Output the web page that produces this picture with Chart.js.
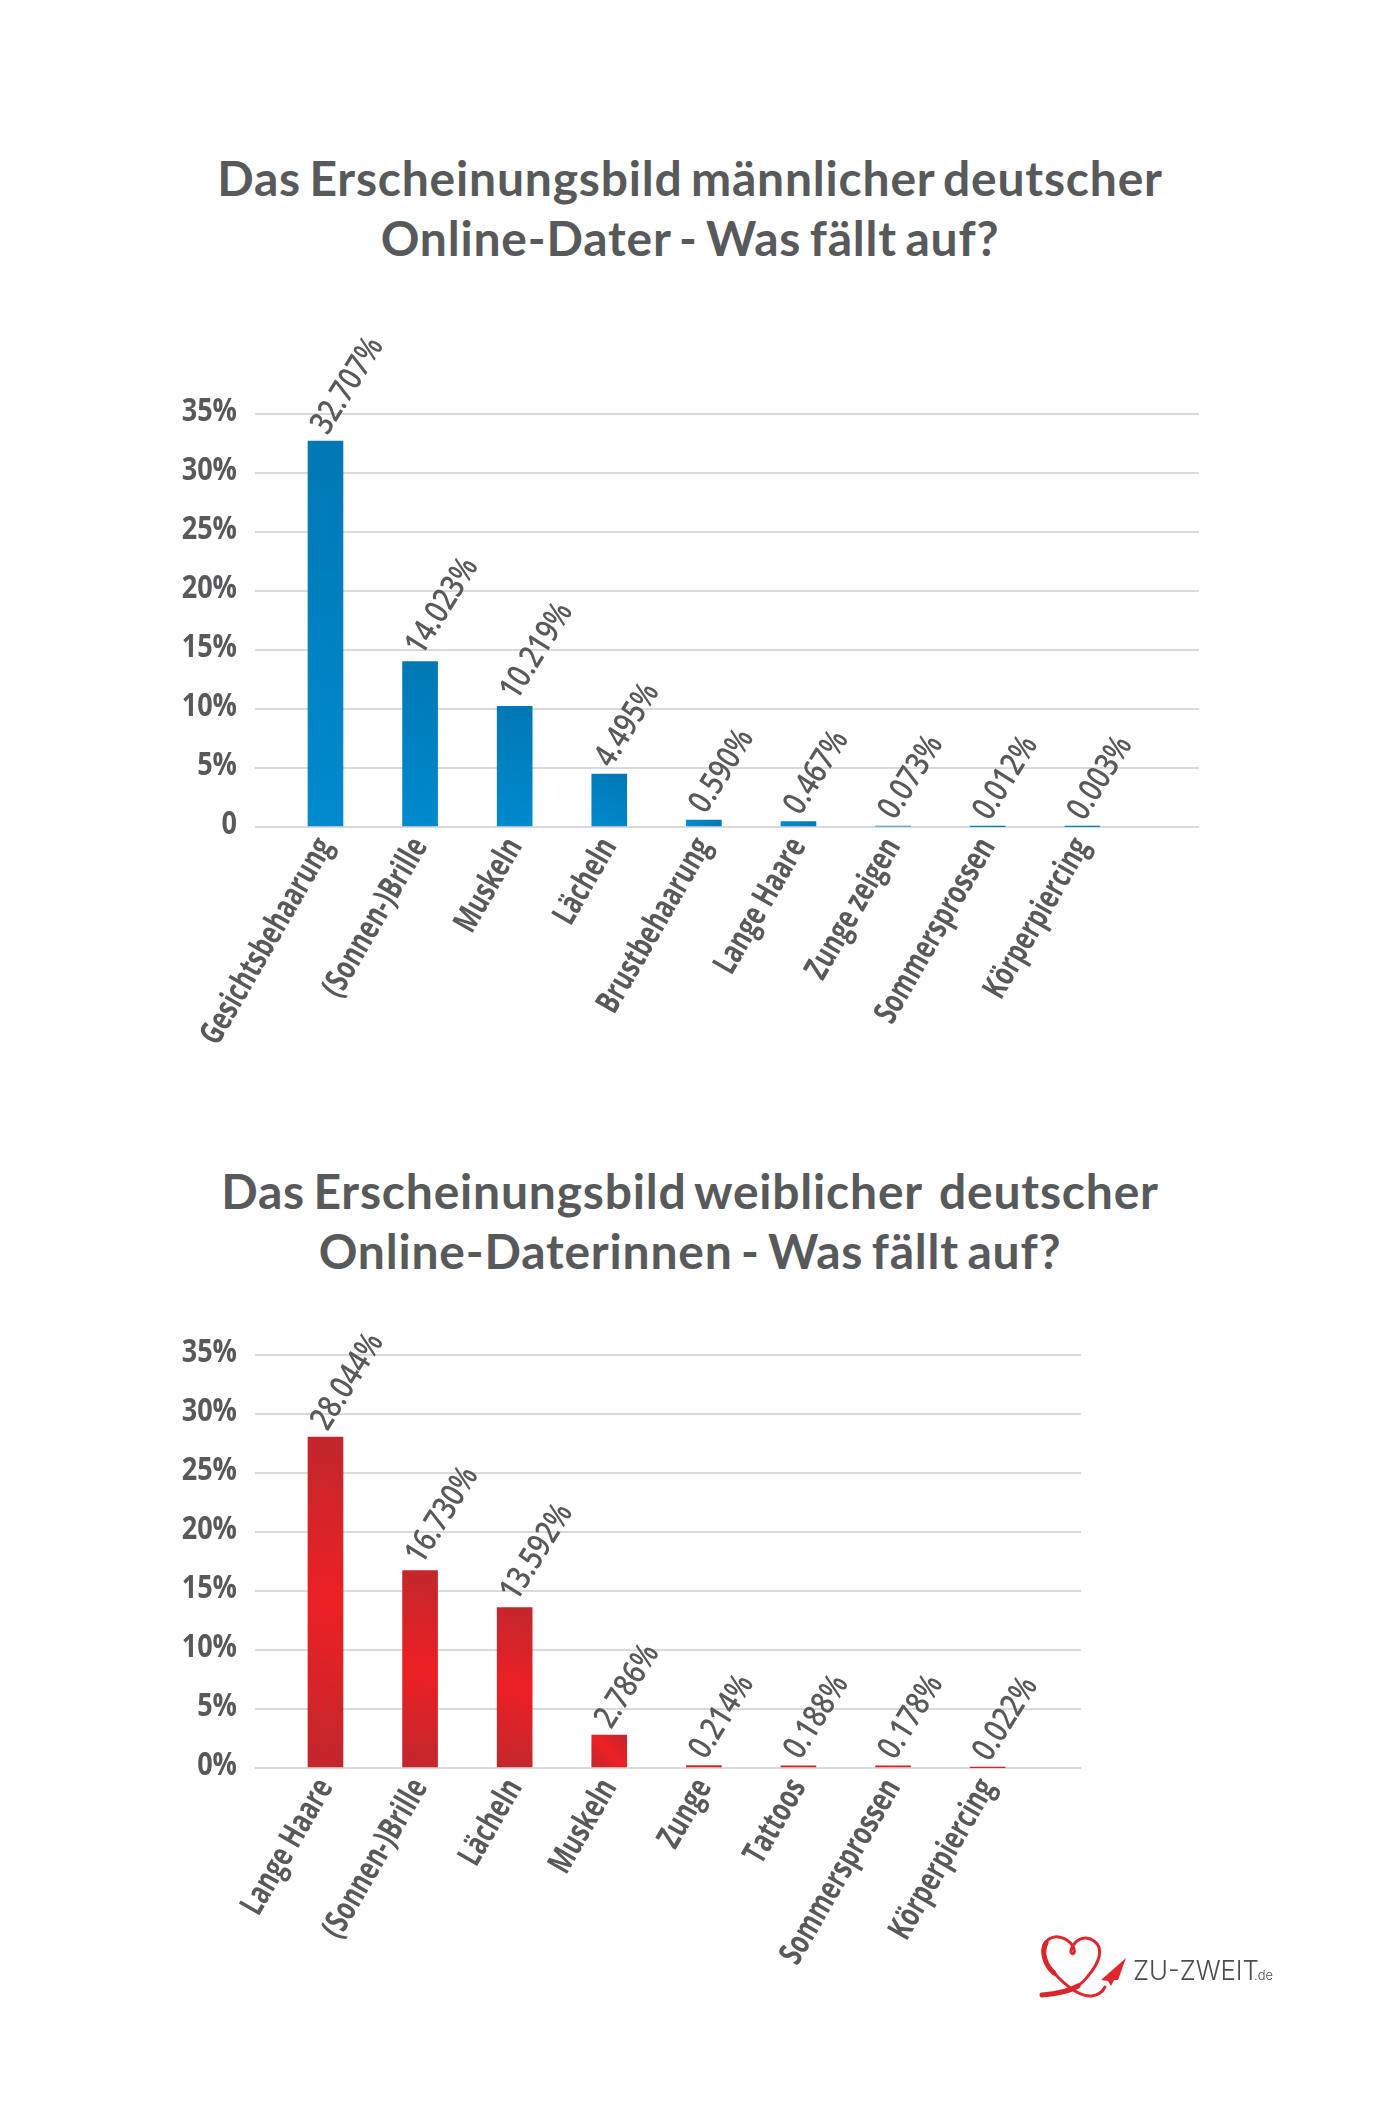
<!DOCTYPE html>
<html lang="de">
<head>
<meta charset="utf-8">
<title>Online-Dater - Was fällt auf?</title>
<script src="https://cdn.jsdelivr.net/npm/chart.js@4/dist/chart.umd.min.js"></script>
<style>
  html, body { margin: 0; padding: 0; background: #fff; }
  #page { position: relative; width: 1382px; height: 2125px; overflow: hidden; }
  h2 {
    position: absolute; left: 0; width: 1380px; margin: 0;
    text-align: center; white-space: pre; color: #58595b;
    font: 700 48px/59.5px Lato, sans-serif;
    letter-spacing: 0.8px; word-spacing: -4px;
  }
  canvas { position: absolute; left: 0; }
  #logo { position: absolute; left: 1030px; top: 1925px; }
</style>
</head>
<body>
<div id="page">
  <h2 style="top:148px">Das Erscheinungsbild männlicher deutscher
Online-Dater - Was fällt auf?</h2>
  <div style="position:absolute;left:0;top:0;width:1382px;height:1080px"><canvas id="men"></canvas></div>
  <h2 style="top:1161px">Das Erscheinungsbild weiblicher  deutscher
Online-Daterinnen - Was fällt auf?</h2>
  <div style="position:absolute;left:0;top:1080px;width:1382px;height:1045px"><canvas id="women"></canvas></div>
  <svg id="logo" width="260" height="85" viewBox="1030 1925 260 85">
    <path d="M1042 1995 C1062 1994 1078 1990 1088 1976 C1100 1962 1104 1948 1094 1941 C1085 1934 1074 1940 1071 1950 C1070 1955 1076 1955 1074 1949 C1071 1940 1058 1933 1049 1939 C1039 1946 1042 1962 1054 1973 C1066 1986 1080 1997 1092 1996 C1099 1995 1103 1991 1105 1987"
      fill="none" stroke="#e0272d" stroke-width="3" stroke-linecap="round"/>
    <path d="M1046 1943 C1041 1952 1045 1965 1054 1973 M1042 1995 C1056 1994 1068 1992 1078 1986"
      fill="none" stroke="#d9262c" stroke-width="5" stroke-linecap="round"/>
    <path d="M1126 1958 L1101 1980 L1108 1981 L1111 1986 L1114 1980 L1118 1980 Z" fill="#e0272d"/>
    <text x="1133" y="1980" font-family="Inter, sans-serif" font-weight="300" font-size="27" textLength="126" lengthAdjust="spacingAndGlyphs" fill="#4d4d4f">ZU-ZWEIT</text>
    <text x="1254" y="1980" font-family="Inter, sans-serif" font-weight="300" font-size="13" fill="#4d4d4f">.de</text>
  </svg>
</div>

<script>
// ===== DONNEES =====
const menCategories = ['Gesichtsbehaarung', '(Sonnen-)Brille', 'Muskeln', 'Lächeln', 'Brustbehaarung', 'Lange Haare', 'Zunge zeigen', 'Sommersprossen', 'Körperpiercing']
const menValues = [32.707, 14.023, 10.219, 4.495, 0.59, 0.467, 0.073, 0.012, 0.003]
const menTicks = ['0', '5%', '10%', '15%', '20%', '25%', '30%', '35%']

const womenCategories = ['Lange Haare', '(Sonnen-)Brille', 'Lächeln', 'Muskeln', 'Zunge', 'Tattoos', 'Sommersprossen', 'Körperpiercing']
const womenValues = [28.044, 16.73, 13.592, 2.786, 0.214, 0.188, 0.178, 0.022]
const womenTicks = ['0%', '5%', '10%', '15%', '20%', '25%', '30%', '35%']

const textColor = '#58595b'
const font = '"Open Sans", sans-serif'

// Texte comprime horizontalement : aucune police etroite n'est disponible
function drawNarrowText(ctx, text, x, y, angle, squeeze) {
  ctx.save()
  ctx.translate(x, y)
  ctx.rotate((-angle * Math.PI) / 180)
  ctx.scale(squeeze, 1)
  ctx.fillText(text, 0, 0)
  ctx.restore()
}

// ===== ETIQUETTES =====
const chartLabels = {
  id: 'chartLabels',
  afterDatasetsDraw(chart, args, opts) {
    const { ctx } = chart
    const { x: xScale, y: yScale } = chart.scales
    ctx.save()
    ctx.fillStyle = textColor
    ctx.textBaseline = 'middle'

    // valeurs au-dessus des barres
    ctx.font = '600 33px ' + font
    ctx.textAlign = 'left'
    chart.getDatasetMeta(0).data.forEach((bar, i) => {
      const label = opts.values[i].toFixed(3) + '%'
      drawNarrowText(ctx, label, bar.x - 6, bar.y - 10, 58, 0.81)
    })

    // axe des categories
    ctx.font = '700 33px ' + font
    ctx.textAlign = 'right'
    opts.categories.forEach((category, i) => {
      drawNarrowText(ctx, category, xScale.getPixelForValue(i), yScale.bottom + 14, 60, 0.73)
    })

    // axe des pourcentages
    opts.tickLabels.forEach((label, i) => {
      drawNarrowText(ctx, label, 237, yScale.getPixelForValue(i * 5) - 2, 0, 0.82)
    })
    ctx.restore()
  },
}

// Degrade diagonal de chaque barre
function barGradient(c, stops) {
  const { chart, dataIndex } = c
  if (dataIndex === undefined) return stops[0]
  const value = chart.data.datasets[0].data[dataIndex]
  const x = chart.scales.x.getPixelForValue(value.x)
  const top = chart.scales.y.getPixelForValue(value.y)
  const bottom = chart.scales.y.getPixelForValue(0)
  // les echelles ne sont pas encore placees au premier passage
  if (![x, top, bottom].every(Number.isFinite)) return stops[0]
  const g = chart.ctx.createLinearGradient(x + 17, top, x - 17, bottom)
  stops.forEach((color, i) => g.addColorStop(i / (stops.length - 1), color))
  return g
}

function makeChart(id, categories, values, tickLabels, stops, opts) {
  new Chart(document.getElementById(id), {
    type: 'bar',
    data: {
      datasets: [
        {
          data: values.map((v, i) => ({ x: i, y: v })),
          backgroundColor: (c) => barGradient(c, stops),
          barThickness: 35,
        },
      ],
    },
    plugins: [chartLabels],
    options: {
      responsive: true,
      maintainAspectRatio: false,
      animation: false,
      layout: { padding: { top: opts.top, right: opts.right, left: 0, bottom: 0 } },
      plugins: {
        legend: { display: false },
        title: { display: false },
        tooltip: { enabled: false },
        chartLabels: { categories, values, tickLabels },
      },
      scales: {
        x: {
          type: 'linear',
          offset: false,
          min: -0.745,
          max: opts.xMax,
          grid: { display: false },
          border: { display: false },
          ticks: { display: false },
          afterFit: (scale) => {
            scale.height = opts.axisHeight
          },
        },
        y: {
          min: 0,
          max: 35,
          grid: { color: '#d9dadb', lineWidth: 2, drawTicks: false },
          border: { display: false },
          ticks: { display: false, stepSize: 5 },
          afterFit: (scale) => {
            scale.width = 255
          },
        },
      },
    },
  })
}

// ===== GRAPHIQUES =====
makeChart('men', menCategories, menValues, menTicks, ['#0078b4', '#008acf'], {
  top: 414, right: 183, xMax: 9.234, axisHeight: 253,
})
makeChart('women', womenCategories, womenValues, womenTicks, ['#c1272d', '#ed2024', '#c1272d'], {
  top: 275, right: 301, xMax: 7.987, axisHeight: 357,
})
</script>
</body>
</html>
